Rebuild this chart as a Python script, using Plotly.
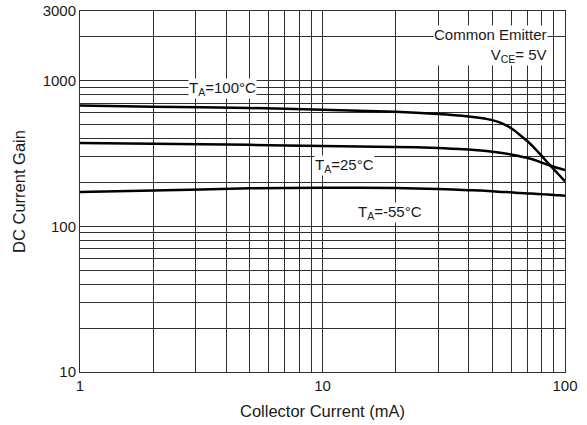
import plotly.graph_objects as go

# Collector current (mA)
ic = [1, 2, 5, 10, 20, 30, 40, 45, 50, 55, 60, 65, 70, 75, 80, 85, 90, 95, 100]
# DC current gain for each ambient temperature
hfe_100 = [673, 662, 648, 631, 610, 590, 567, 553, 535, 508, 470, 425, 383, 343, 305, 272, 246, 223, 203]
hfe_25 = [372, 368, 362, 355, 350, 345, 336, 331, 325, 318, 311, 302, 294, 285, 274, 264, 256, 249, 243]
hfe_m55 = [172, 176, 182, 184, 183, 180, 177, 176, 174, 172, 171, 169, 168, 167, 166, 165, 164, 163, 162]

x_ticks = [1, 10, 100]
x_minor = [2, 3, 4, 5, 6, 7, 8, 9, 20, 30, 40, 50, 60, 70, 80, 90]
y_ticks = [10, 100, 1000, 3000]
y_minor = [20, 30, 40, 50, 60, 70, 80, 90, 200, 300, 400, 500, 600,
           700, 800, 900, 2000]

FONT = "Liberation Sans, Arial, sans-serif"
GRID = "#2e2e2e"
TXT = "#1a1a1a"

fig = go.Figure()
for ys in (hfe_100, hfe_25, hfe_m55):
    fig.add_trace(go.Scatter(x=ic, y=ys, mode="lines",
                             line=dict(color="black", width=2.5, shape="spline", smoothing=0.6),
                             showlegend=False, hoverinfo="skip"))

fig.update_layout(
    width=587, height=425,
    margin=dict(l=80, r=22, t=11, b=53),
    paper_bgcolor="white", plot_bgcolor="white",
    font=dict(family=FONT, size=15, color=TXT),
    xaxis=dict(type="log", range=[0, 2.00001], tickmode="array",
               tickvals=x_ticks, ticktext=[str(v) for v in x_ticks],
               showgrid=True, gridcolor=GRID, gridwidth=1,
               minor=dict(tickmode="array", tickvals=x_minor, showgrid=True,
                          gridcolor=GRID, gridwidth=1, ticks=""),
               showline=True, linecolor=GRID, linewidth=1, mirror=True,
               ticks="", zeroline=False, automargin=False,
               ticklabeloverflow="allow",
               tickfont=dict(size=15),
               title=dict(text="Collector Current (mA)", font=dict(size=16.5), standoff=12)),
    yaxis=dict(type="log", range=[1, 3.47713], tickmode="array",
               tickvals=y_ticks, ticktext=[str(v) for v in y_ticks],
               showgrid=True, gridcolor=GRID, gridwidth=1,
               minor=dict(tickmode="array", tickvals=y_minor, showgrid=True,
                          gridcolor=GRID, gridwidth=1, ticks=""),
               showline=True, linecolor=GRID, linewidth=1, mirror=True,
               ticks="", zeroline=False, automargin=False,
               ticklabeloverflow="allow",
               tickfont=dict(size=15),
               title=dict(text="DC Current Gain", font=dict(size=16.5), standoff=12)),
)

ann_font = dict(family=FONT, size=15, color=TXT)
fig.add_annotation(xref="paper", yref="paper", x=0.965, y=0.962,
                   xanchor="right", yanchor="top", align="right",
                   text="Common Emitter<br>V<sub>CE</sub>= 5V",
                   showarrow=False, bgcolor="white", font=ann_font, borderpad=0)
fig.add_annotation(xref="paper", yref="paper", x=0.293, y=0.784,
                   xanchor="center", yanchor="middle",
                   text="T<sub>A</sub>=100°C", showarrow=False, bgcolor="white",
                   font=ann_font, borderpad=0)
fig.add_annotation(xref="paper", yref="paper", x=0.546, y=0.571,
                   xanchor="center", yanchor="middle",
                   text="T<sub>A</sub>=25°C", showarrow=False, bgcolor="white",
                   font=ann_font, borderpad=0)
fig.add_annotation(xref="paper", yref="paper", x=0.639, y=0.443,
                   xanchor="center", yanchor="middle",
                   text="T<sub>A</sub>=-55°C", showarrow=False, bgcolor="white",
                   font=ann_font, borderpad=0)

# remove the browser's default 8px page margin so the figure fills the window
fig.write_html("out.html",
               config={"displayModeBar": False},
               post_script="document.body.style.margin='0';document.body.style.overflow='hidden';")
